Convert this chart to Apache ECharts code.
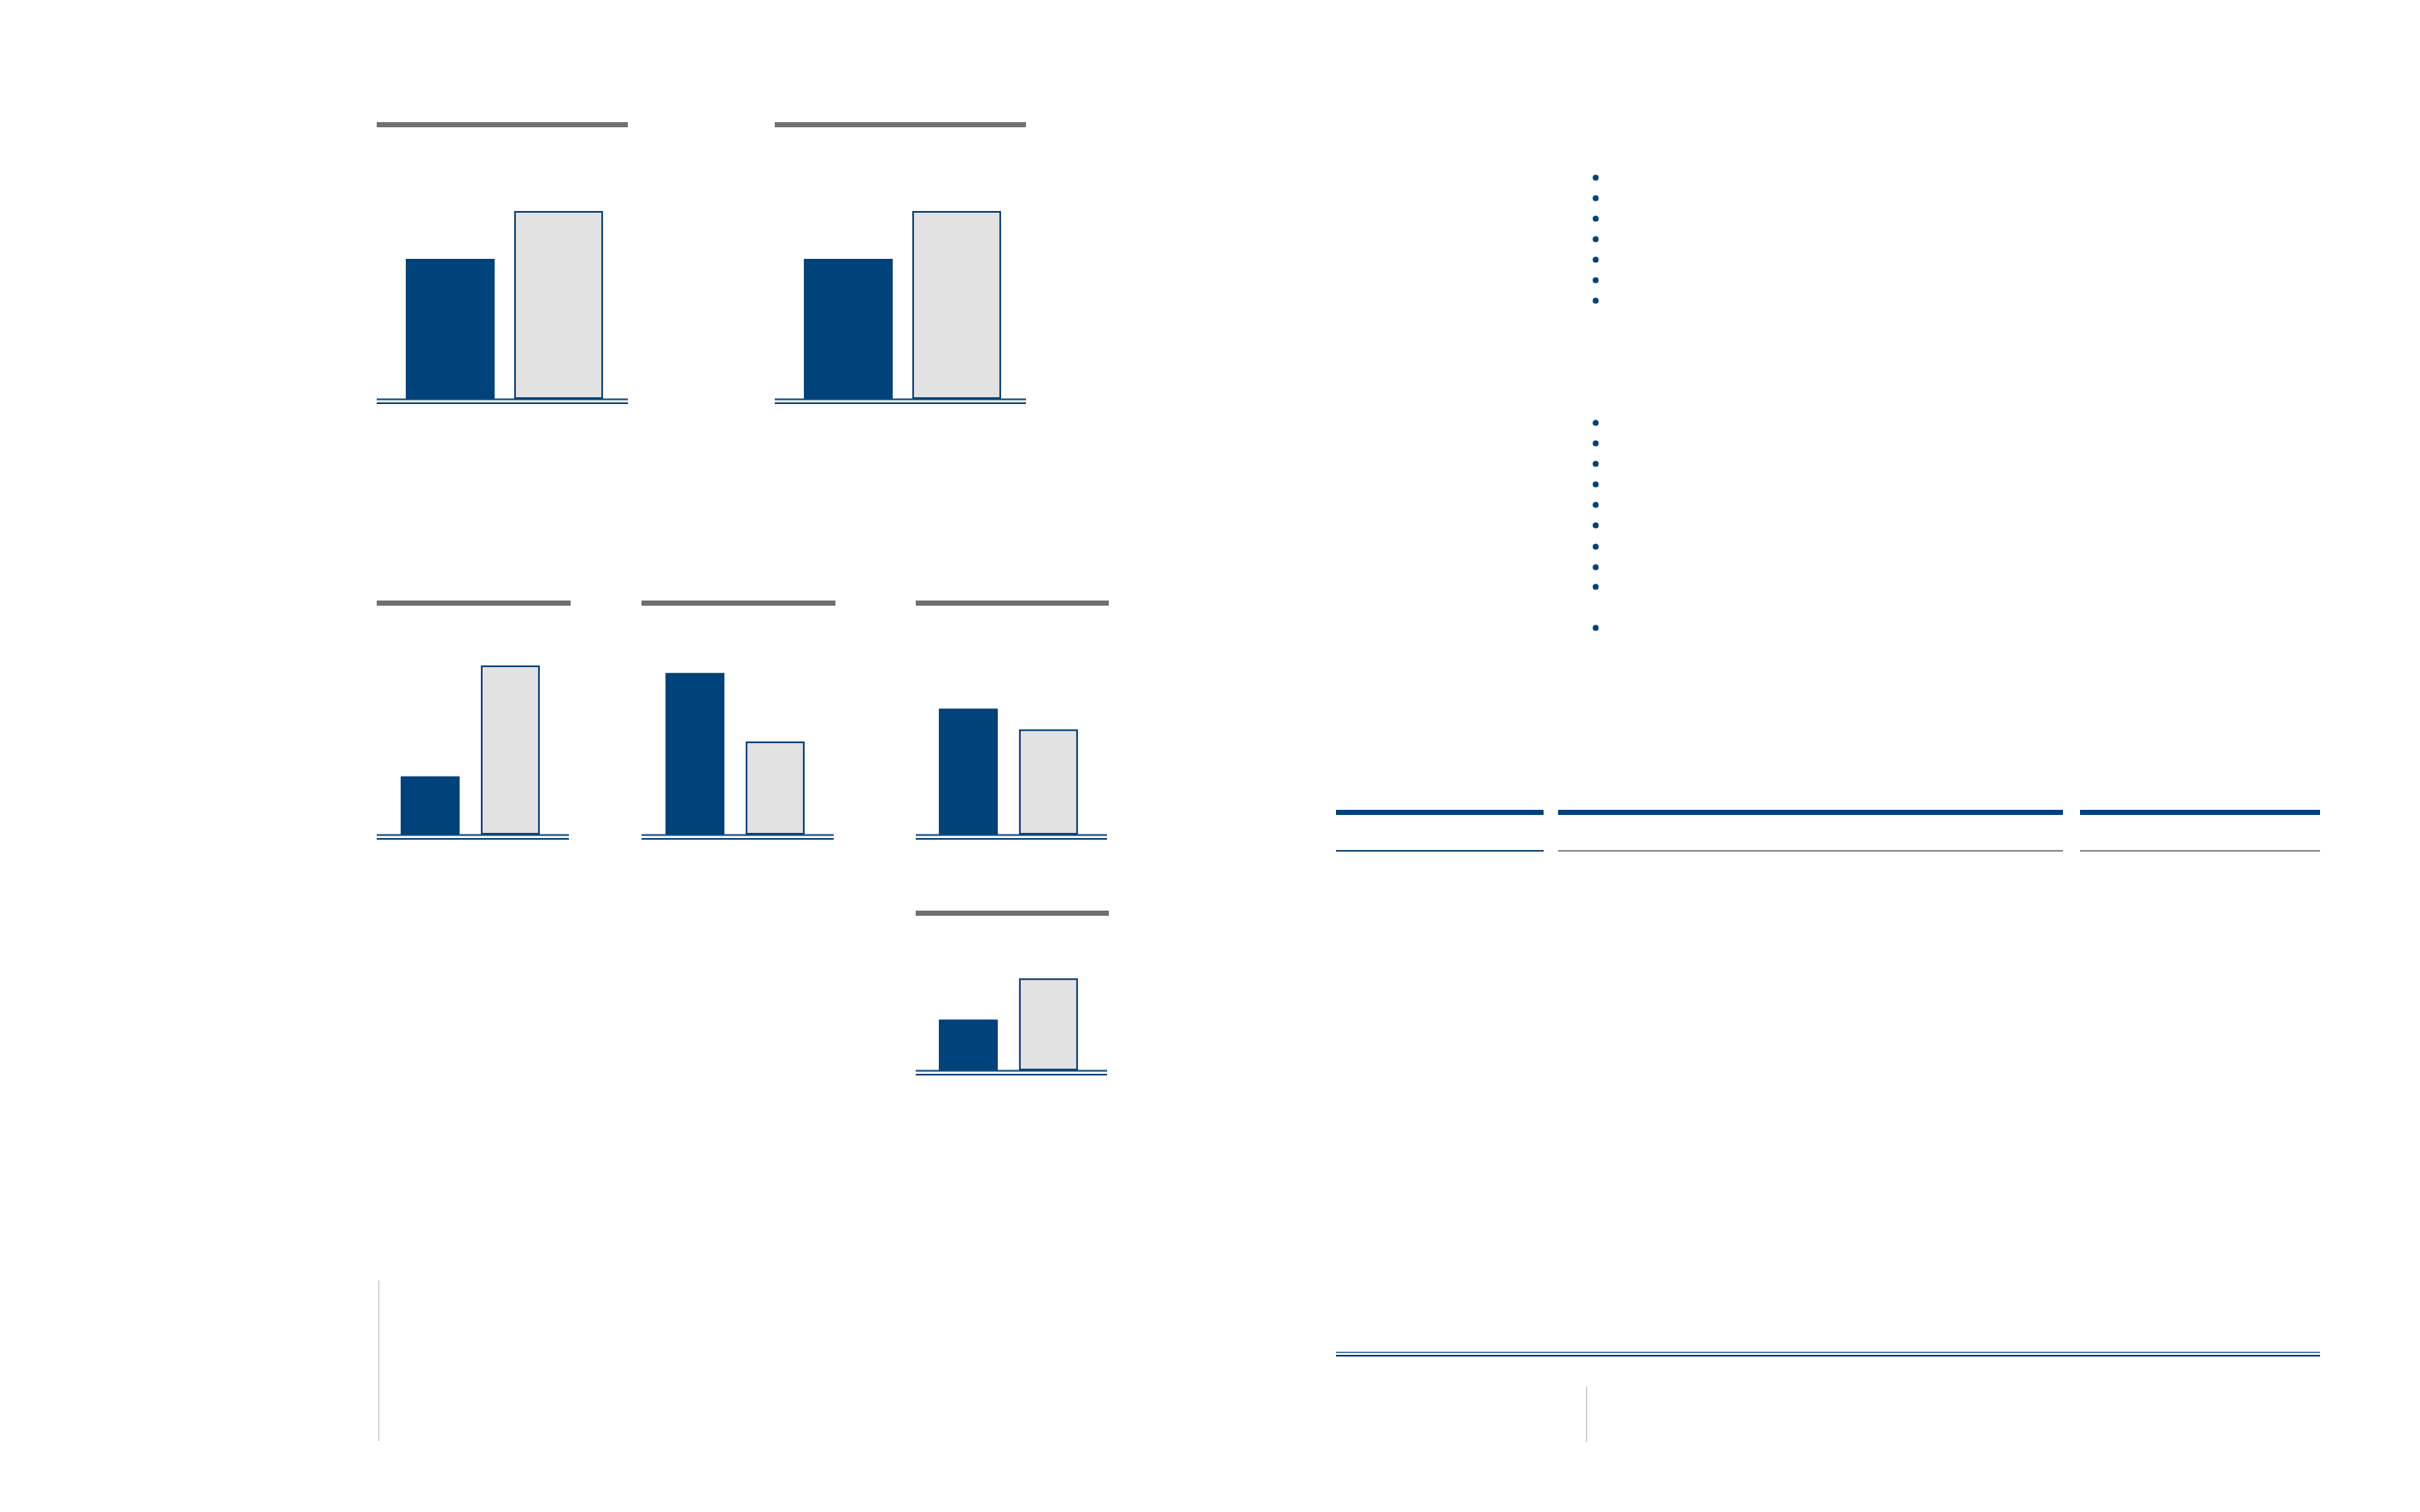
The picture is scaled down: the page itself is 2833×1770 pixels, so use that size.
<!DOCTYPE html>
<html>
<head>
<meta charset="utf-8">
<title>Chart</title>
<script src="https://cdn.jsdelivr.net/npm/echarts@6/dist/echarts.min.js"></script>
<style>
  html, body { margin: 0; padding: 0; background: #ffffff; }
  #main { width: 2833px; height: 1770px; }
</style>
</head>
<body>
<div id="main"></div>
<script>
// ---- data ----
const categories = [''];
const darkValues  = [74.5, 74.5, 31, 86, 67, 27];
const lightValues = [100, 100, 90, 49.5, 56, 49];

// ---- layout (positions / sizes / styles) ----
const DARK = '#00427a';
const LIGHT_FILL = '#e2e2e2';
const LIGHT_BORDER = '#0b4479';
const HEADER = '#707070';
const BASE = '#134878';
const SCALE_H = 220; // px for 100 units
const GRID_W = 600;

const panels = [
  { cx: 590.5,  bottom: 467,  barW: 104, gap: '22%', head: [441, 143, 294], base: [441, 294, 467.5] },
  { cx: 1056.5, bottom: 467,  barW: 104, gap: '22%', head: [907, 143, 294], base: [907, 294, 467.5] },
  { cx: 550.5,  bottom: 977,  barW: 69,  gap: '36%', head: [441, 703, 227], base: [441, 225, 977.5] },
  { cx: 860.5,  bottom: 977,  barW: 69,  gap: '36%', head: [751, 703, 227], base: [751, 225, 977.5] },
  { cx: 1180.5, bottom: 977,  barW: 69,  gap: '36%', head: [1072, 703, 226], base: [1072, 224, 977.5] },
  { cx: 1180.5, bottom: 1253, barW: 69,  gap: '36%', head: [1072, 1066, 226], base: [1072, 224, 1253.5] }
];

const grid = [], xAxis = [], yAxis = [], series = [], graphic = [];

panels.forEach((p, i) => {
  grid.push({ left: p.cx - GRID_W / 2, top: p.bottom - SCALE_H, width: GRID_W, height: SCALE_H });
  xAxis.push({ type: 'category', gridIndex: i, data: categories, show: false });
  yAxis.push({ type: 'value', gridIndex: i, min: 0, max: 100, show: false });
  series.push({
    type: 'bar', name: 'dark', xAxisIndex: i, yAxisIndex: i,
    data: [darkValues[i]], barWidth: p.barW, barGap: p.gap,
    itemStyle: { color: DARK }, z: 2
  });
  series.push({
    type: 'bar', name: 'light', xAxisIndex: i, yAxisIndex: i,
    data: [lightValues[i]], barWidth: p.barW, barGap: p.gap,
    itemStyle: { color: LIGHT_FILL, borderColor: LIGHT_BORDER, borderWidth: 2 }, z: 2
  });
  // header bar
  graphic.push({ type: 'rect', shape: { x: p.head[0], y: p.head[1], width: p.head[2], height: 6 },
    style: { fill: HEADER }, z: 5 });
  // double baseline
  graphic.push({ type: 'rect', shape: { x: p.base[0], y: p.base[2] - 1, width: p.base[1], height: 2 },
    style: { fill: BASE }, z: 5 });
  graphic.push({ type: 'rect', shape: { x: p.base[0], y: p.base[2] + 3.5, width: p.base[1], height: 2 },
    style: { fill: BASE }, z: 5 });
});

// bullets of the (text-less) right-hand lists
const bulletYs = [208, 232, 256, 280, 304, 328, 352, 495, 519, 543, 567, 591, 615, 640, 664, 687, 735];
bulletYs.forEach(y => {
  graphic.push({ type: 'circle', shape: { cx: 1868, cy: y, r: 3.5 }, style: { fill: DARK }, z: 5 });
});

// table rules
const colSegs = [[1564, 1807], [1824, 2415], [2435, 2716]];
colSegs.forEach((s, k) => {
  graphic.push({ type: 'rect', shape: { x: s[0], y: 948, width: s[1] - s[0], height: 6 },
    style: { fill: DARK }, z: 5 });
  graphic.push({ type: 'rect', shape: { x: s[0], y: 995, width: s[1] - s[0], height: 2 },
    style: { fill: k === 0 ? '#1d4f82' : '#8c8c8c' }, z: 5 });
});
graphic.push({ type: 'rect', shape: { x: 1564, y: 1582.5, width: 1152, height: 1.5 }, style: { fill: '#2c66a3' }, z: 5 });
graphic.push({ type: 'rect', shape: { x: 1564, y: 1586, width: 1152, height: 2 }, style: { fill: '#0b3e70' }, z: 5 });

// thin vertical rules
graphic.push({ type: 'rect', shape: { x: 443, y: 1499, width: 1, height: 188 }, style: { fill: '#b8b8b8' }, z: 5 });
graphic.push({ type: 'rect', shape: { x: 1857, y: 1623, width: 1, height: 65 }, style: { fill: '#b8b8b8' }, z: 5 });

const chart = echarts.init(document.getElementById('main'), null, { renderer: 'canvas' });
chart.setOption({
  backgroundColor: '#ffffff',
  animation: false,
  tooltip: { show: false },
  grid, xAxis, yAxis, series, graphic
});
</script>
</body>
</html>
